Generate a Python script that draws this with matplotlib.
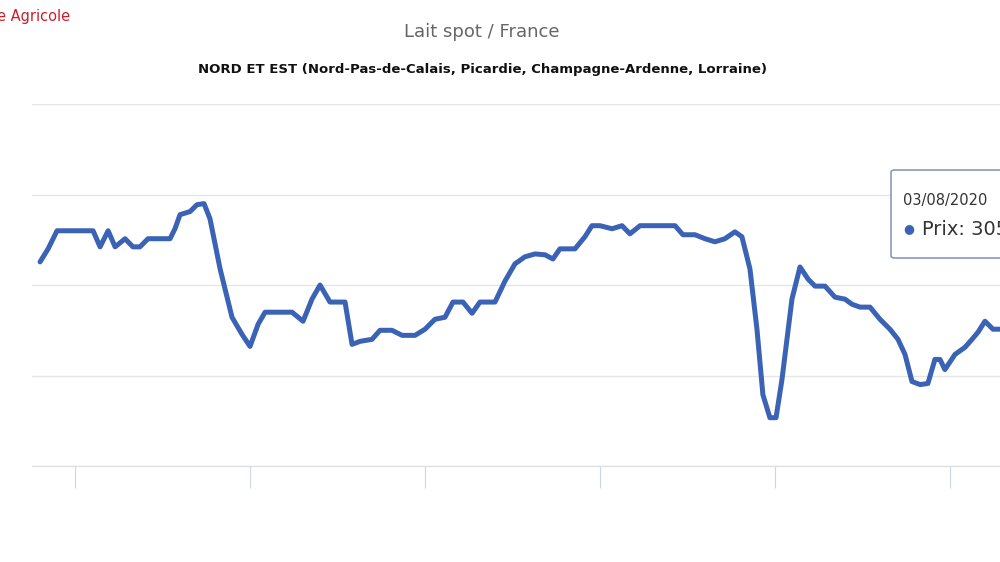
import matplotlib
matplotlib.use("Agg")
import matplotlib.pyplot as plt
from matplotlib.patches import FancyBboxPatch

# decimal years and spot milk price
years = [2014.80, 2014.846, 2014.897, 2014.971, 2015.103, 2015.143, 2015.189, 2015.229, 2015.286,
         2015.331, 2015.371, 2015.417, 2015.543, 2015.571, 2015.6, 2015.657, 2015.697, 2015.737,
         2015.771, 2015.829, 2015.897, 2015.954, 2016.0, 2016.046, 2016.086, 2016.24, 2016.303,
         2016.354, 2016.4, 2016.457, 2016.543, 2016.583, 2016.629, 2016.697, 2016.743, 2016.811,
         2016.869, 2016.943, 2017.0, 2017.057, 2017.114, 2017.16, 2017.217, 2017.269, 2017.314,
         2017.4, 2017.457, 2017.514, 2017.571, 2017.629, 2017.686, 2017.731, 2017.771, 2017.857,
         2017.914, 2017.954, 2018.0, 2018.069, 2018.126, 2018.171, 2018.229, 2018.297, 2018.429,
         2018.474, 2018.543, 2018.6, 2018.657, 2018.714, 2018.771, 2018.811, 2018.857, 2018.897,
         2018.931, 2018.971, 2019.006, 2019.04, 2019.097, 2019.143, 2019.189, 2019.229, 2019.286,
         2019.343, 2019.4, 2019.44, 2019.486, 2019.543, 2019.6, 2019.657, 2019.703, 2019.743,
         2019.783, 2019.829, 2019.874, 2019.914, 2019.943, 2019.971, 2020.029, 2020.086, 2020.126,
         2020.16, 2020.2, 2020.246, 2020.286]
prices = [312.8, 320, 330, 330, 330, 321.1, 330, 321.1, 325.6,
          321.1, 321.1, 325.6, 325.6, 331.1, 338.9, 340.6, 344.4, 345,
          336.7, 308.9, 282.2, 272.8, 266.1, 278.3, 285, 285, 280,
          292.2, 300, 290.6, 290.6, 267.2, 268.9, 270, 275, 275,
          272.2, 272.2, 275.6, 281.1, 282.2, 290.6, 290.6, 284.4, 290.6,
          290.6, 302.2, 311.7, 315.6, 317.2, 316.7, 314.4, 320, 320,
          326.7, 332.8, 332.8, 331.1, 332.8, 328.3, 332.8, 332.8, 332.8,
          327.8, 327.8, 325.6, 323.9, 325.6, 329.4, 326.7, 308.9, 275.6,
          239.4, 226.7, 226.7, 247.8, 292.2, 310, 303.3, 299.4, 299.4,
          293.3, 292.2, 289.4, 287.8, 287.8, 281.1, 275.6, 270, 261.7,
          246.7, 245, 245.6, 258.9, 258.9, 253.3, 261.7, 265.6, 270,
          273.9, 280, 275.6, 275.6]
year_ticks = [2015, 2016, 2017, 2018, 2019, 2020]
grid_values = [200, 250, 300, 350, 400]

fig = plt.figure(figsize=(10, 5.62), dpi=100)
ax = fig.add_axes([0.032, 0.1708, 0.968, 0.644])
ax.plot(years, prices, color="#3a62b5", linewidth=3.6, solid_joinstyle="round",
        solid_capstyle="round", zorder=3)
ax.set_xlim(2014.754, 2020.286)
ax.set_ylim(200, 400)
ax.set_yticks(grid_values)
ax.set_xticks(year_ticks)
ax.yaxis.grid(True, color="#e6e6e6", linewidth=1)
ax.tick_params(axis="y", length=0, labelleft=False)
ax.tick_params(axis="x", length=16, color="#ccd6eb", labelbottom=False)
for name, s in ax.spines.items():
    s.set_visible(name == "bottom")
ax.spines["bottom"].set_color("#dddddd")

fig.text(0.482, 1 - 32 / 562, "Lait spot / France", ha="center", va="center",
         fontsize=13, color="#666666")
fig.text(0.482, 1 - 70 / 562,
         "NORD ET EST (Nord-Pas-de-Calais, Picardie, Champagne-Ardenne, Lorraine)",
         ha="center", va="center", fontsize=9.5, fontweight="bold", color="#111111")
fig.text(-0.003, 1 - 17 / 562, "e Agricole", ha="left", va="center", fontsize=10.5,
         color="#cc1f2a")

# tooltip (cut at the right edge, as in the screenshot)
box = FancyBboxPatch((0.891, 1 - 258 / 562), 0.2, 88 / 562, boxstyle="round,pad=0,rounding_size=0.004",
                     transform=fig.transFigure, facecolor="white", edgecolor="#8a9ab8",
                     linewidth=1.2, zorder=5)
fig.add_artist(box)
fig.text(0.903, 1 - 200 / 562, "03/08/2020", fontsize=10.5, color="#333333",
         va="center", zorder=6)
fig.text(0.903, 1 - 229 / 562, "\u25CF", fontsize=9, color="#3a62b5", va="center", zorder=6)
fig.text(0.922, 1 - 229 / 562, "Prix: 305", fontsize=14, color="#333333",
         va="center", zorder=6)

fig.savefig("out.png", dpi=100)
